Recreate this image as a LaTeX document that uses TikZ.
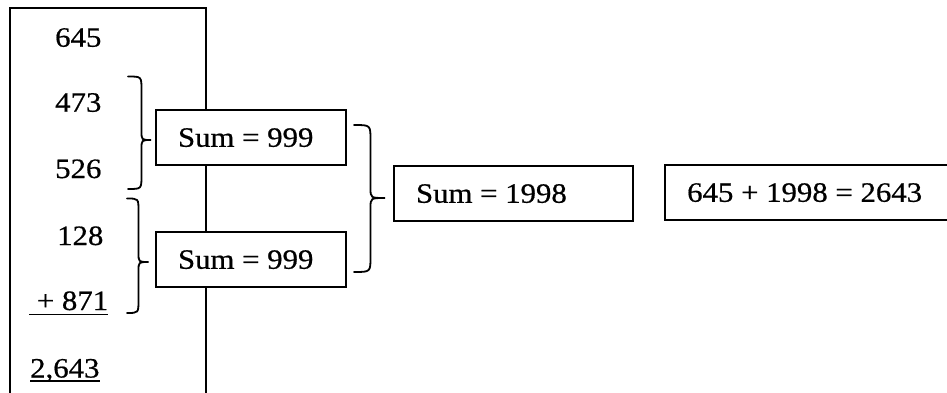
\documentclass[tikz,border=0pt]{standalone}
\usepackage{fontspec}
\setmainfont[FakeStretch=1.1,FakeBold=0.6]{Liberation Serif}
\begin{document}
\begin{tikzpicture}[x=1pt,y=-1pt,
  font=\fontsize{28}{34}\selectfont,
  lw/.style={line width=2pt},
  box/.style={draw, lw, fill=white, rectangle, anchor=north west,
    inner xsep=22pt, inner ysep=0pt, minimum height=55pt,
    text height=18.5pt, text depth=0pt, align=left,
    execute at begin node={\spaceskip=0pt\relax\xspaceskip=0pt\relax}},
  num/.style={anchor=base west, inner sep=0pt},
  brace/.style={line width=1.8pt, line cap=round},
  uline/.style={line width=1.8pt}
]
\useasboundingbox (0,0) rectangle (947,393);
\clip (0,0) rectangle (947,393);

% open frame of the column
\draw[lw] (10,400) -- (10,8) -- (205.5,8) -- (205.5,400);

% column of numbers
\node[num] (n645) at (55,46.7) {645};
\node[num] (n473) at (55,111.7) {473};
\node[num] (n526) at (55,178) {526};
\node[num] (n128) at (57,245) {128};
\node[num] (n871) at (29,310) {\ + 871};
\node[num] (n2643) at (30,377.5) {2,643};
\draw[uline] ([yshift=-4.5pt]n871.base west) -- ([yshift=-4.5pt]n871.base east);
\draw[uline] ([yshift=-3.5pt]n2643.base west) -- ([yshift=-3.5pt]n2643.base east);

% boxes
\node[box, text width=146pt] (s1) at (155,109) {Sum = 999};
\node[box, text width=146pt] (s2) at (155,231) {Sum = 999};
\node[box, text width=195pt] (s3) at (393,165) {Sum = 1998};
% last box runs past the right edge of the picture
\draw[lw] (990,165) -- (665,165) -- (665,220) -- (990,220);
\node[num] (s4) at (687,201.75) {645 + 1998 = 2643};

% braces
\draw[brace] (128,76.5) .. controls (141.5,76.5) .. (141.5,90)
  -- (141.5,131) .. controls (141.5,140) .. (151,140)
  .. controls (141.5,140) .. (141.5,149)
  -- (141.5,175.5) .. controls (141.5,189) .. (128,189);
\draw[brace] (127,198.5) .. controls (138.5,198.5) .. (138.5,211)
  -- (138.5,253) .. controls (138.5,262) .. (148.5,262)
  .. controls (138.5,262) .. (138.5,271)
  -- (138.5,300) .. controls (138.5,313) .. (127,313);
\draw[brace] (354,125) .. controls (370.5,125) .. (370.5,140)
  -- (370.5,188) .. controls (370.5,198) .. (385,198)
  .. controls (370.5,198) .. (370.5,208)
  -- (370.5,257) .. controls (370.5,272) .. (354,272);
\end{tikzpicture}
\end{document}
